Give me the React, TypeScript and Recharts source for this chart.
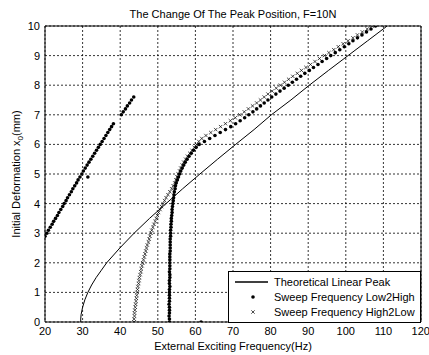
import {
  CartesianGrid,
  Label,
  Legend,
  ReferenceLine,
  Scatter,
  ScatterChart,
  XAxis,
  YAxis,
} from "recharts";

const FONT = "'Liberation Sans', Arial, Helvetica, sans-serif";

// initial deformation levels (mm) used by both sweeps
const deformSteps = [
  0.0, 0.1, 0.2, 0.3, 0.4, 0.5, 0.6, 0.7, 0.8, 0.9,
  1.0, 1.1, 1.2, 1.3, 1.4, 1.5, 1.6, 1.7, 1.8, 1.9,
  2.0, 2.1, 2.2, 2.3, 2.4, 2.5, 2.6, 2.7, 2.8, 2.9,
  3.0, 3.1, 3.2, 3.3, 3.4, 3.5, 3.6, 3.7, 3.8, 3.9,
  4.0, 4.1, 4.2, 4.3, 4.4, 4.5, 4.6, 4.7, 4.8, 4.9,
  5.0, 5.1, 5.2, 5.3, 5.4, 5.5, 5.6, 5.7, 5.8, 5.9,
  6.0, 6.1, 6.2, 6.3, 6.4, 6.5, 6.6, 6.7, 6.8, 6.9,
  7.0, 7.1, 7.2, 7.3, 7.4, 7.5, 7.6, 7.7, 7.8, 7.9,
  8.0, 8.1, 8.2, 8.3, 8.4, 8.5, 8.6, 8.7, 8.8, 8.9,
  9.0, 9.1, 9.2, 9.3, 9.4, 9.5, 9.6, 9.7, 9.8, 9.9,
  10.0,
];

// peak frequency (Hz), sweeping low -> high
const lowToHighFreq = [
  53.1, 53.1, 53.0, 53.1, 53.1, 53.1, 53.0, 53.1, 53.1, 53.1,
  53.1, 53.1, 53.2, 53.1, 53.1, 53.2, 53.2, 53.1, 53.2, 53.2,
  53.2, 53.2, 53.2, 53.2, 53.3, 53.3, 53.3, 53.3, 53.3, 53.4,
  53.4, 53.4, 53.5, 53.5, 53.6, 53.6, 53.7, 53.8, 53.8, 53.9,
  54.0, 54.1, 54.2, 54.3, 54.4, 54.6, 54.7, 54.9, 55.2, 55.5,
  55.8, 56.1, 56.5, 56.9, 57.3, 57.8, 58.3, 58.9, 59.5, 60.2,
  61.0, 62.4, 63.8, 65.2, 66.6, 68.0, 69.4, 70.7, 71.9, 73.1,
  74.2, 75.3, 76.3, 77.3, 78.3, 79.3, 80.3, 81.4, 82.5, 83.6,
  84.7, 85.8, 86.9, 88.0, 89.1, 90.3, 91.4, 92.6, 93.7, 94.9,
  96.0, 97.2, 98.4, 99.6, 100.8, 101.9, 103.1, 104.3, 105.5, 106.7,
  107.9,
];

// peak frequency (Hz), sweeping high -> low
const highToLowFreq = [
  43.7, 43.7, 43.8, 43.8, 43.9, 44.0, 44.1, 44.2, 44.3, 44.4,
  44.5, 44.6, 44.7, 44.9, 45.0, 45.1, 45.3, 45.5, 45.6, 45.8,
  46.0, 46.2, 46.4, 46.6, 46.8, 47.0, 47.2, 47.5, 47.7, 47.9,
  48.2, 48.4, 48.7, 49.0, 49.3, 49.6, 49.9, 50.2, 50.6, 51.0,
  51.4, 51.8, 52.2, 52.7, 53.2, 53.7, 54.1, 54.5, 54.8, 55.1,
  55.4, 55.8, 56.1, 56.5, 56.9, 57.4, 57.9, 58.5, 59.1, 59.7,
  60.3, 60.9, 61.7, 62.8, 64.1, 65.4, 66.7, 68.0, 69.3, 70.6,
  71.8, 73.0, 74.1, 75.2, 76.3, 77.3, 78.3, 79.3, 80.4, 81.5,
  82.6, 83.7, 84.8, 85.9, 87.1, 88.2, 89.4, 90.6, 91.8, 93.0,
  94.3, 95.5, 96.8, 98.0, 99.3, 100.6, 101.9, 103.1, 104.4, 105.7,
  107.0,
];

// second low -> high branch on the left
const leftBranchDeform = [
  2.9, 3.0, 3.1, 3.2, 3.3, 3.4, 3.5, 3.6, 3.7, 3.8, 3.9,
  4.0, 4.1, 4.2, 4.3, 4.4, 4.5, 4.6, 4.7, 4.8, 4.9,
  5.0, 5.1, 5.2, 5.3, 5.4, 5.5, 5.6, 5.7, 5.8, 5.9,
  6.0, 6.1, 6.2, 6.3, 6.4, 6.5, 6.6, 6.7,
  7.0, 7.1, 7.2, 7.3, 7.4, 7.5, 7.6,
];
const leftBranchFreq = [
  20.0, 20.5, 20.9, 21.4, 21.9, 22.3, 22.8, 23.3, 23.7, 24.2, 24.7,
  25.1, 25.6, 26.0, 26.5, 27.0, 27.4, 27.9, 28.4, 28.8, 29.3,
  29.8, 30.2, 30.7, 31.2, 31.7, 32.2, 32.7, 33.2, 33.7, 34.2,
  34.7, 35.2, 35.7, 36.2, 36.7, 37.2, 37.7, 38.2,
  40.3, 40.8, 41.4, 41.9, 42.5, 43.0, 43.6,
];

// stray low -> high samples
const strayDeform = [4.9, 0.0];
const strayFreq = [31.4, 61.5];

// theoretical linear resonance peak
const theoryDeform = [
  0, 0.1, 0.25, 0.5, 0.75, 1.0, 1.25, 1.5, 1.75, 2.0, 2.5, 3.0, 3.5,
  4.0, 4.5, 5.0, 5.5, 6.0, 6.5, 7.0, 7.5, 8.0, 8.5, 9.0, 9.5, 10.0,
];
const theoryFreq = [
  29.5, 29.5, 29.6, 30.0, 30.6, 31.4, 32.4, 33.6, 35.0, 36.4, 39.9, 43.7, 47.8,
  52.2, 56.6, 61.2, 65.9, 70.7, 75.6, 80.2, 85.4, 90.3, 95.4, 100.6, 105.8, 111.0,
];

const xTicks = [20, 30, 40, 50, 60, 70, 80, 90, 100, 110, 120];
const yTicks = [0, 1, 2, 3, 4, 5, 6, 7, 8, 9, 10];

const pair = (freq: number[], deform: number[]) =>
  freq.map((f, i) => ({ f, x0: deform[i] }));

const theoryData = pair(theoryFreq, theoryDeform);
const lowToHighData = [
  ...pair(lowToHighFreq, deformSteps),
  ...pair(leftBranchFreq, leftBranchDeform),
  ...pair(strayFreq, strayDeform),
];
const highToLowData = pair(highToLowFreq, deformSteps);

const DotMark = (p: any) => <circle cx={p.cx} cy={p.cy} r={1.8} fill="#000" />;

const CrossMark = (p: any) => {
  const s = 1.7;
  return (
    <path
      d={`M${p.cx - s},${p.cy - s}L${p.cx + s},${p.cy + s}M${p.cx - s},${p.cy + s}L${p.cx + s},${p.cy - s}`}
      stroke="#000"
      strokeWidth={0.7}
      fill="none"
    />
  );
};

const NoMark = () => <g />;

const legendRows = [
  { label: "Theoretical Linear Peak", kind: "line" },
  { label: "Sweep Frequency Low2High", kind: "dot" },
  { label: "Sweep Frequency High2Low", kind: "cross" },
];

function LegendBox() {
  return (
    <svg width={193} height={52} style={{ display: "block" }}>
      <rect x={0.5} y={0.5} width={192} height={51} fill="#fff" stroke="#000" />
      {legendRows.map((row, i) => {
        const y = 11 + i * 15;
        return (
          <g key={row.label}>
            {row.kind === "line" && <line x1={7} x2={40} y1={y} y2={y} stroke="#000" strokeWidth={1.5} />}
            {row.kind === "dot" && <DotMark cx={25} cy={y} />}
            {row.kind === "cross" && <CrossMark cx={25} cy={y} />}
            <text x={46} y={y + 4} fontSize={11} fontFamily={FONT} fill="#000">
              {row.label}
            </text>
          </g>
        );
      })}
    </svg>
  );
}

export default function App() {
  const tickStyle = { fontSize: 11, fill: "#000", fontFamily: FONT };
  return (
    <div style={{ position: "absolute", left: 0, top: 0, width: 429, height: 355, background: "#fff" }}>
      <ScatterChart width={429} height={355} margin={{ top: 26, right: 8, bottom: 3, left: 5 }}>
        <CartesianGrid stroke="#000" strokeDasharray="2 2" strokeWidth={0.8} />
        <XAxis
          type="number"
          dataKey="f"
          domain={[20, 120]}
          ticks={xTicks}
          allowDataOverflow
          height={30}
          tickSize={0}
          tickMargin={5}
          tick={tickStyle}
          tickLine={false}
          axisLine={{ stroke: "#000" }}
        >
          <Label
            content={(props: any) => {
              const vb = props.viewBox;
              return (
                <text x={vb.x + vb.width / 2} y={vb.y + 28} textAnchor="middle" fontSize={11} fontFamily={FONT} fill="#000">
                  External Exciting Frequency(Hz)
                </text>
              );
            }}
          />
        </XAxis>
        <YAxis
          type="number"
          dataKey="x0"
          domain={[0, 10]}
          ticks={yTicks}
          allowDataOverflow
          width={40}
          tickSize={0}
          tickMargin={5}
          tick={tickStyle}
          tickLine={false}
          axisLine={{ stroke: "#000" }}
        >
          <Label
            content={(props: any) => {
              const vb = props.viewBox;
              const cy = vb.y + vb.height / 2;
              return (
                <text
                  transform={`translate(20,${cy}) rotate(-90)`}
                  textAnchor="middle"
                  fontSize={11}
                  fontFamily={FONT}
                  fill="#000"
                >
                  Initial Deformation x<tspan fontSize={8} dy={3}>0</tspan>
                  <tspan dy={-3}>(mm)</tspan>
                </text>
              );
            }}
          />
        </YAxis>
        <ReferenceLine
          y={10}
          stroke="#000"
          label={
            <Label
              content={(props: any) => {
                const vb = props.viewBox;
                return (
                  <text x={vb.x + vb.width / 2} y={vb.y - 8.5} textAnchor="middle" fontSize={11} fontFamily={FONT} fill="#000">
                    The Change Of The Peak Position, F=10N
                  </text>
                );
              }}
            />
          }
        />
        <ReferenceLine x={120} stroke="#000" />
        <Scatter
          name="Theoretical Linear Peak"
          data={theoryData}
          line={{ stroke: "#000", strokeWidth: 1 }}
          shape={NoMark}
          isAnimationActive={false}
        />
        <Scatter name="Sweep Frequency Low2High" data={lowToHighData} shape={DotMark} isAnimationActive={false} />
        <Scatter name="Sweep Frequency High2Low" data={highToLowData} shape={CrossMark} isAnimationActive={false} />
        <Legend
          layout="vertical"
          align="center"
          verticalAlign="middle"
          content={() => <LegendBox />}
          wrapperStyle={{ position: "absolute", left: 228, top: 271, width: 193, height: 52 }}
        />
      </ScatterChart>
    </div>
  );
}
